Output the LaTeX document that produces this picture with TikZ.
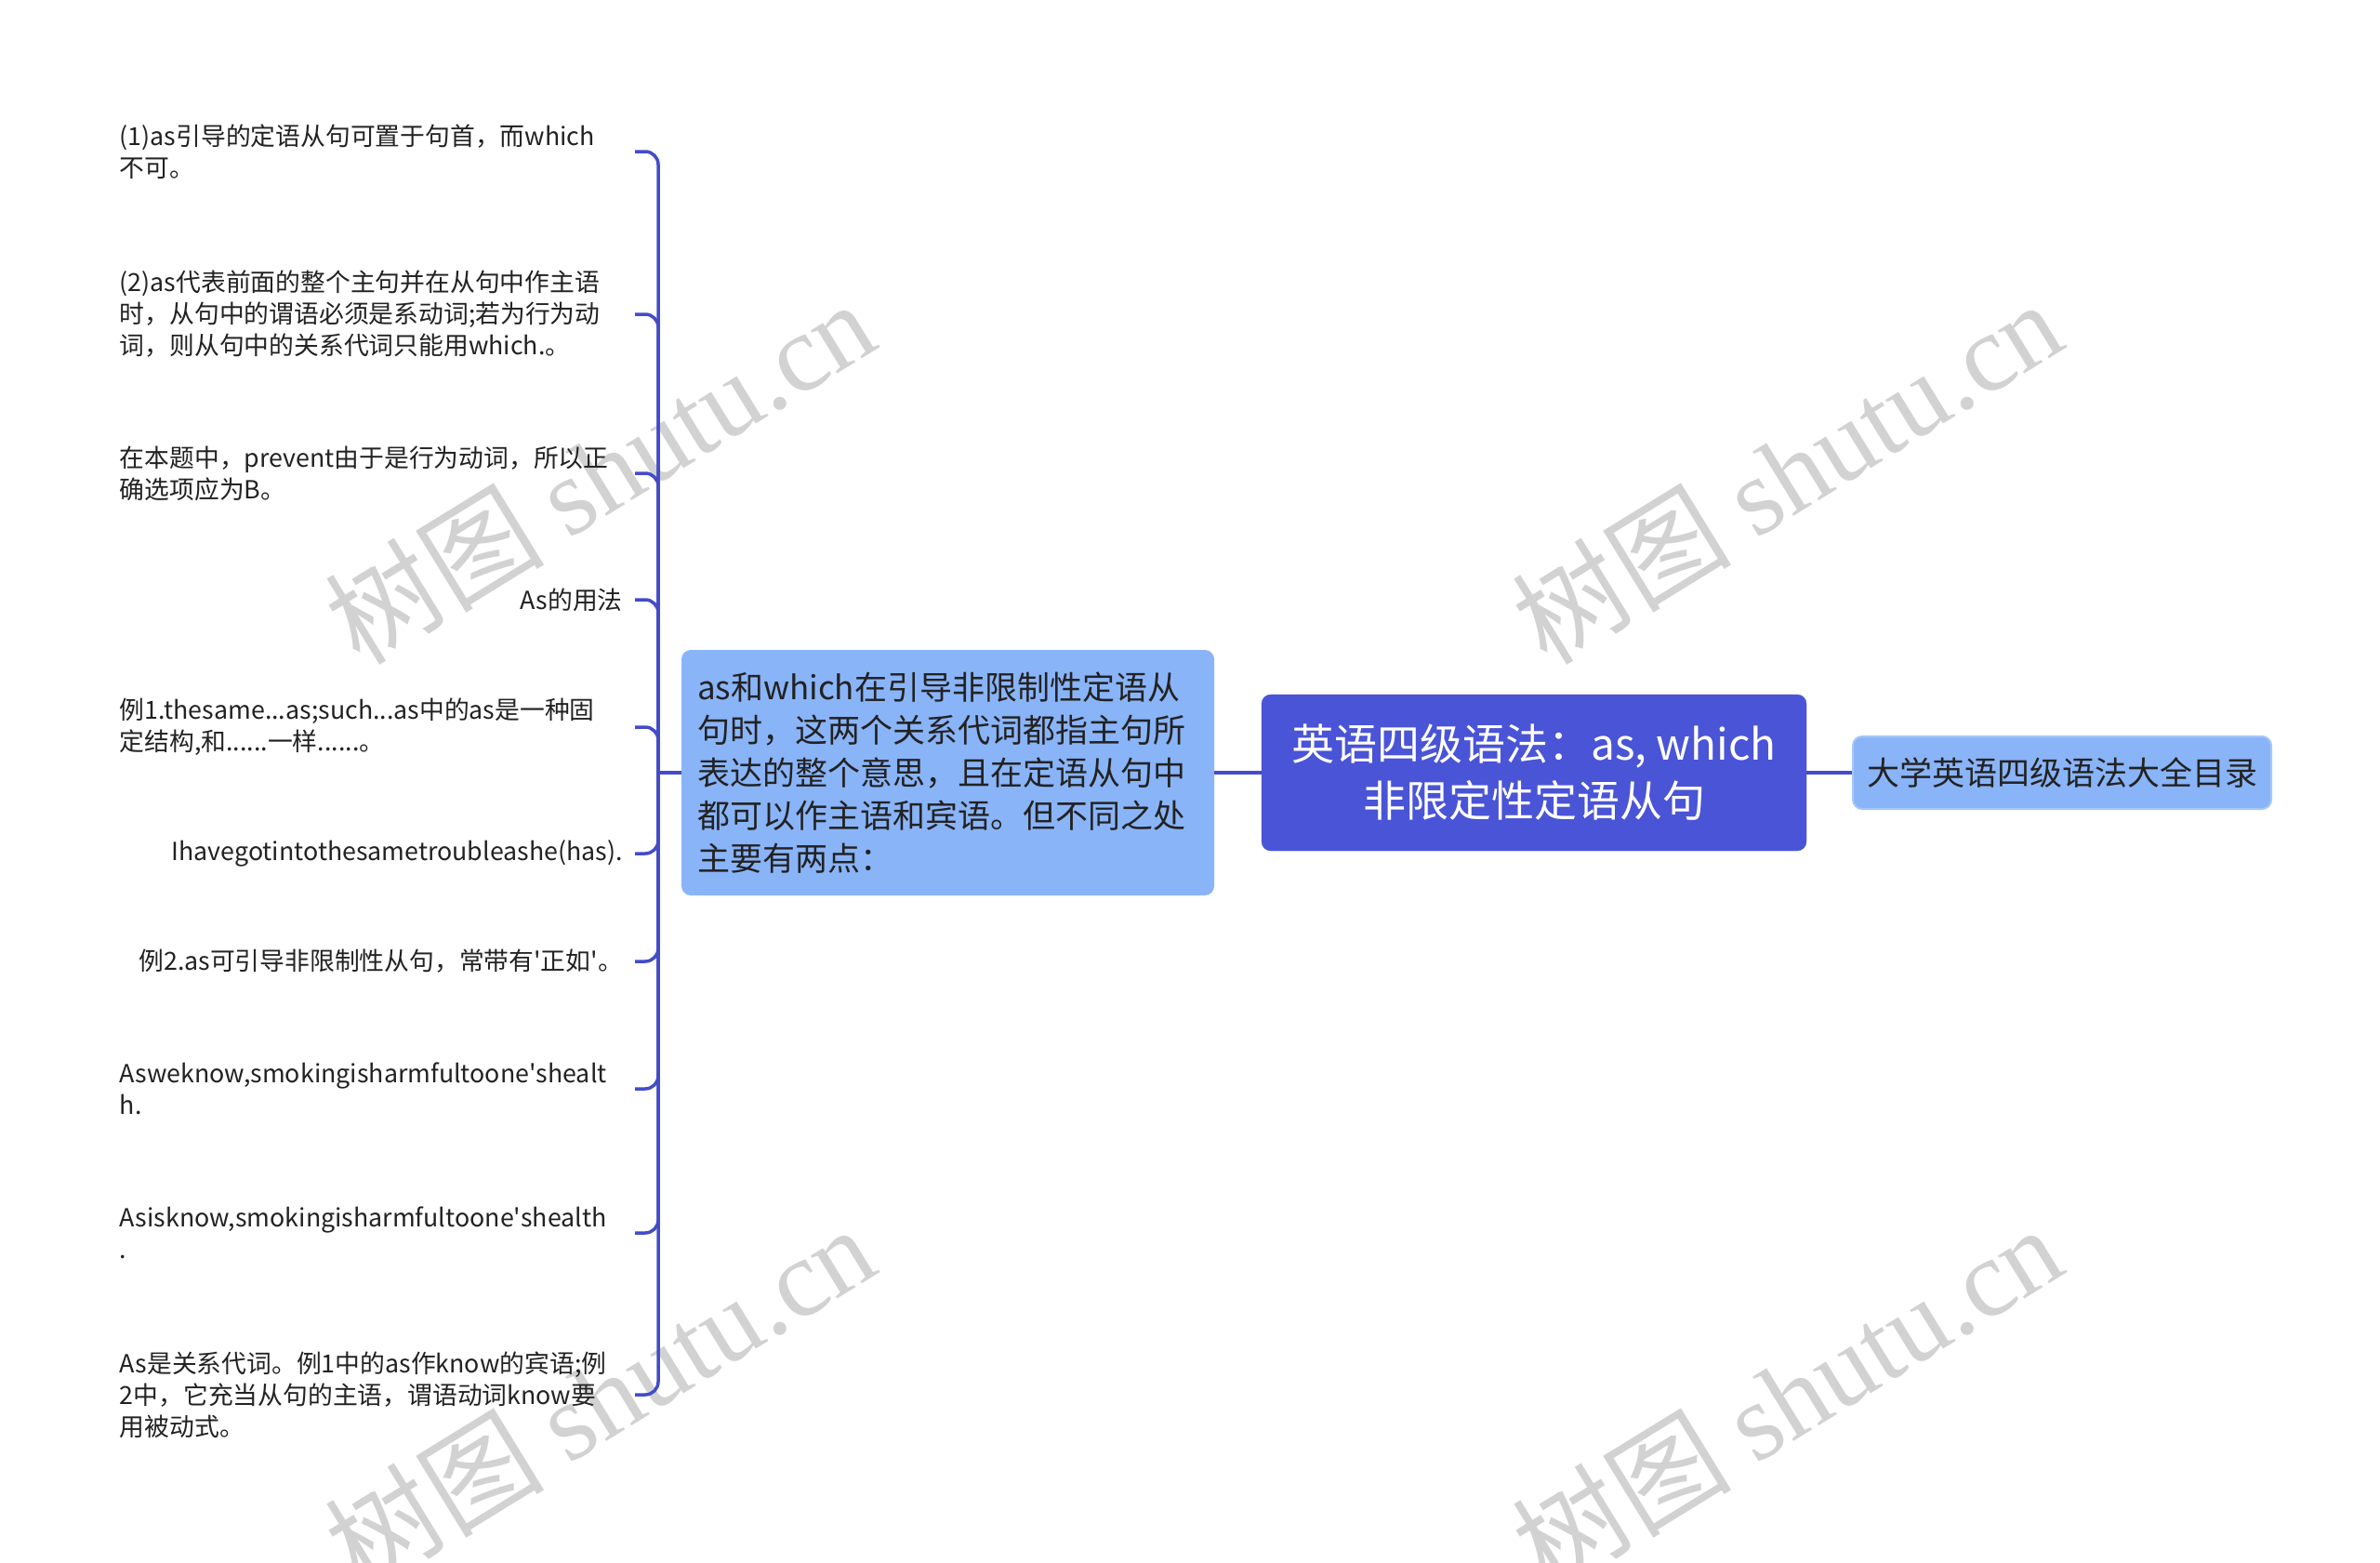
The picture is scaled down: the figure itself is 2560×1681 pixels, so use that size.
\documentclass[tikz,border=0pt]{standalone}
\usepackage{fontspec}
\setmainfont{Noto Sans CJK SC}
\newfontfamily\wmcjk{Noto Sans CJK SC}
\newfontfamily\wmserif{Liberation Serif}
\definecolor{linec}{RGB}{67,76,200}
\definecolor{mainc}{RGB}{74,84,214}
\definecolor{subc}{RGB}{138,180,248}
\definecolor{subb}{RGB}{165,198,250}
\definecolor{txt}{RGB}{34,34,34}
\definecolor{wm}{RGB}{210,210,210}
\tikzset{
  leaf/.style={font=\fontsize{26.8}{34}\selectfont, text=txt, text width=541pt,
    inner xsep=13pt, inner ysep=0pt, anchor=east},
  leafl/.style={leaf, align=left},
  leafr/.style={leaf, align=right},
  midbox/.style={fill=subc, rounded corners=10pt, minimum width=573pt, minimum height=264pt,
    text width=539pt, inner xsep=17pt, align=left, text=txt, font=\fontsize{35}{46}\selectfont},
  mainbox/.style={fill=mainc, draw=mainc, rounded corners=10pt, minimum width=586pt, minimum height=168pt,
    align=center, text=white, font=\fontsize{46}{61}\selectfont},
  rightbox/.style={fill=subc, draw=subb, line width=2pt, rounded corners=10pt, minimum width=450pt,
    minimum height=78pt, text=txt, font=\fontsize{35}{42}\selectfont},
  conn/.style={draw=linec, line width=3.5pt},
  wmark/.style={text=wm, font=\fontsize{118}{120}\selectfont, rotate=31.6}
}
\begin{document}
\begin{tikzpicture}[x=1pt,y=-1pt]
\fill[white] (0,0) rectangle (2560,1681);
\useasboundingbox (0,0) rectangle (2560,1681);
% watermarks
\node[wmark] (w1) at (645,507) {{\wmcjk 树图} {\wmserif shutu.cn}};
\node[wmark] (w2) at (1922,507) {{\wmcjk 树图} {\wmserif shutu.cn}};
\node[wmark] (w3) at (645,1502) {{\wmcjk 树图} {\wmserif shutu.cn}};
\node[wmark] (w4) at (1922,1502) {{\wmcjk 树图} {\wmserif shutu.cn}};
% nodes
\node[mainbox] (main) at (1650,831) {英语四级语法：as, which\\非限定性定语从句};
\node[rightbox] (right) at (2218,831) {大学英语四级语法大全目录};
\node[midbox] (mid) at (1019.5,831) {as和which在引导非限制性定语从\\句时，这两个关系代词都指主句所\\表达的整个意思，且在定语从句中\\都可以作主语和宾语。但不同之处\\主要有两点：};
\node[leafl] (l1) at (683,163) {(1)as引导的定语从句可置于句首，而which\\不可。};
\node[leafl] (l2) at (683,338) {(2)as代表前面的整个主句并在从句中作主语\\时，从句中的谓语必须是系动词;若为行为动\\词，则从句中的关系代词只能用which.。};
\node[leafl] (l3) at (683,509) {在本题中，prevent由于是行为动词，所以正\\确选项应为B。};
\node[leafr] (l4) at (683,645) {As的用法};
\node[leafl] (l5) at (683,782) {例1.thesame...as;such...as中的as是一种固\\定结构,和......一样......。};
\node[leafr] (l6) at (683,918) {Ihavegotintothesametroubleashe(has).};
\node[leafr] (l7) at (683,1034) {例2.as可引导非限制性从句，常带有\textquotesingle 正如\textquotesingle 。};
\node[leafl] (l8) at (683,1171) {Asweknow,smokingisharmfultoone\textquotesingle shealt\\h.};
\node[leafl] (l9) at (683,1326) {Asisknow,smokingisharmfultoone\textquotesingle shealth\\.};
\node[leafl] (l10) at (683,1500) {As是关系代词。例1中的as作know的宾语;例\\2中，它充当从句的主语，谓语动词know要\\用被动式。};
% connectors
\coordinate (trunk) at (708,831);
\draw[conn] (mid.west) -- (trunk);
\foreach \n in {l1,l2,l3,l4,l5,l6,l7,l8,l9,l10}
  \draw[conn, rounded corners=14pt] (trunk) |- (\n.east);
\draw[conn] (main.west) -- (mid.east);
\draw[conn] (main.east) -- (right.west);
\end{tikzpicture}
\end{document}
